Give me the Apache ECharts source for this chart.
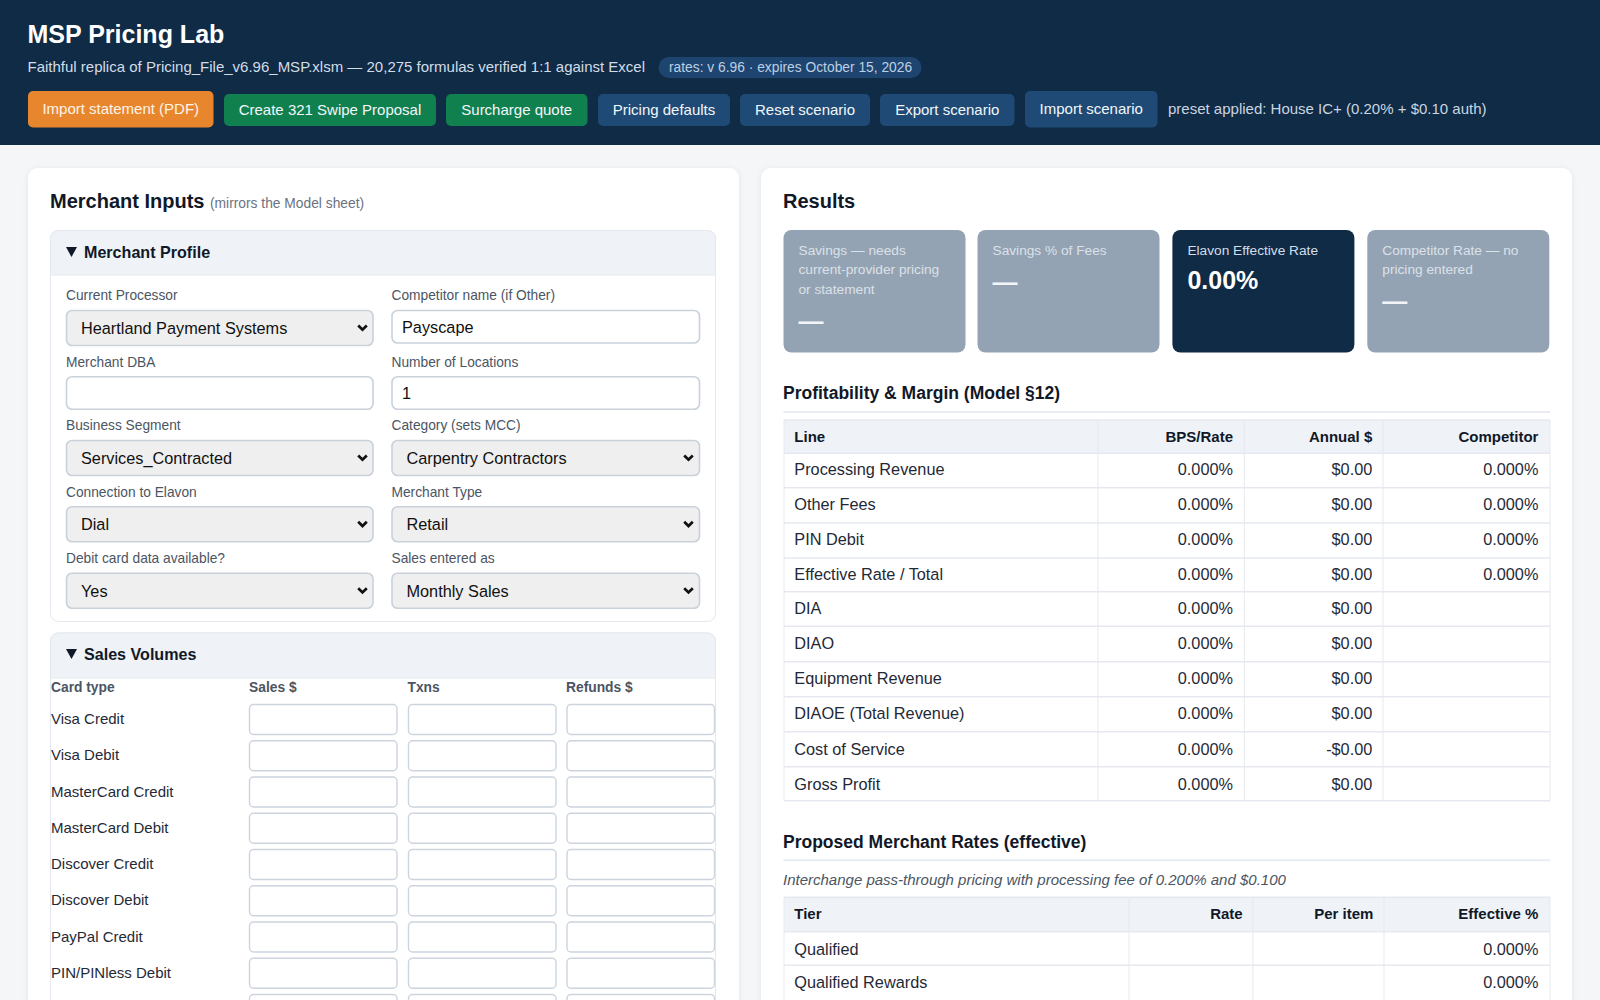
<!DOCTYPE html>
<html><head><meta charset="utf-8"><title>MSP Pricing Lab</title>
<style>html,body{margin:0;padding:0;background:#f4f6f8;overflow:hidden}#c{width:1600px;height:1000px}</style>
<script src="https://cdn.jsdelivr.net/npm/echarts@6/dist/echarts.min.js"></script></head><body><div id="c"></div>
<script>
const titleText='MSP Pricing Lab';
const subtitleText='Faithful replica of Pricing_File_v6.96_MSP.xlsm — 20,275 formulas verified 1:1 against Excel';
const pillText='rates: v 6.96 · expires October 15, 2026';
const presetText='preset applied: House IC+ (0.20% + $0.10 auth)';
const buttonLabels=['Import statement (PDF)','Create 321 Swipe Proposal','Surcharge quote','Pricing defaults','Reset scenario','Export scenario','Import scenario'];
const formLabelsLeft=['Current Processor','Merchant DBA','Business Segment','Connection to Elavon','Debit card data available?'];
const formValuesLeft=['Heartland Payment Systems','','Services_Contracted','Dial','Yes'];
const formLabelsRight=['Competitor name (if Other)','Number of Locations','Category (sets MCC)','Merchant Type','Sales entered as'];
const formValuesRight=['Payscape','1','Carpentry Contractors','Retail','Monthly Sales'];
const salesColumns=['Card type','Sales $','Txns','Refunds $'];
const cardTypes=['Visa Credit','Visa Debit','MasterCard Credit','MasterCard Debit','Discover Credit','Discover Debit','PayPal Credit','PIN/PINless Debit'];
const kpiLabels=[['Savings — needs','current-provider pricing','or statement'],['Savings % of Fees'],['Elavon Effective Rate'],['Competitor Rate — no','pricing entered']];
const kpiValues=['—','—','0.00%','—'];
const profitHead=['Line','BPS/Rate','Annual $','Competitor'];
const profitLines=['Processing Revenue','Other Fees','PIN Debit','Effective Rate / Total','DIA','DIAO','Equipment Revenue','DIAOE (Total Revenue)','Cost of Service','Gross Profit'];
const profitBps=['0.000%','0.000%','0.000%','0.000%','0.000%','0.000%','0.000%','0.000%','0.000%','0.000%'];
const profitAnnual=['$0.00','$0.00','$0.00','$0.00','$0.00','$0.00','$0.00','$0.00','-$0.00','$0.00'];
const profitComp=['0.000%','0.000%','0.000%','0.000%','','','','','',''];
const ratesHead=['Tier','Rate','Per item','Effective %'];
const rateTiers=['Qualified','Qualified Rewards'];
const rateEffective=['0.000%','0.000%'];

const F='"Liberation Sans",Arial,sans-serif';
const E=[];
function rect(x,y,w,h,fill,stroke,r,extra){E.push({type:'rect',shape:{x,y,width:w,height:h,r:r||0},style:Object.assign({fill:fill||'none',stroke:stroke||'none',lineWidth:stroke?1:0},extra||{}),silent:true});}
function text(x,y,t,size,color,opt){opt=opt||{};if(t==='')return;E.push({type:'text',silent:true,style:{x,y,text:t,fill:color,font:(opt.style?opt.style+' ':'')+(opt.weight||'normal')+' '+size+'px '+F,textAlign:opt.align||'left',textVerticalAlign:'middle'}});}
function line(x1,y1,x2,y2,c,w){E.push({type:'line',silent:true,shape:{x1,y1,x2,y2},style:{stroke:c,lineWidth:w||1}});}
function tri(x,y){E.push({type:'polygon',silent:true,shape:{points:[[x,y],[x+11,y],[x+5.5,y+10]]},style:{fill:'#111827'}});}
function chev(x,y){E.push({type:'polyline',silent:true,shape:{points:[[x-4.3,y-2],[x,y+2.2],[x+4.3,y-2]]},style:{stroke:'#111',lineWidth:2.7,fill:'none'}});}

const NAVY='#0f2b46',BORDER='#e3e8ef',INK='#111827',MUTE='#4b5563',TBL='#e5e9ef';
// header
rect(0,0,1600,145,NAVY);
text(27.5,33.5,titleText,25,'#ffffff',{weight:'bold'});
text(27.5,66.5,subtitleText,15,'#d3dde8');
rect(658.5,57,263,21,'#1e4570',null,10.5);
text(669,67.3,pillText,13.8,'#bcd0e4');
const btnX=[[28,213.5],[224,436],[446,587.5],[598,730],[740,870],[880,1014.5],[1025,1157.5]];
const btnFill=['#e8862e','#11804f','#11804f','#1e4a75','#1e4a75','#1e4a75','#1e4a75'];
buttonLabels.forEach((b,i)=>{const tall=i===0||i===6;const y=tall?91:94,h=tall?36.5:32;
 rect(btnX[i][0],y,btnX[i][1]-btnX[i][0],h,btnFill[i],null,5);
 text((btnX[i][0]+btnX[i][1])/2,tall?108.8:109.5,b,15,i===0?'#fff4e8':'#f3f7fb',{align:'center'});});
text(1168,108.8,presetText,15,'#cbd5e1');

// cards
const shadow={shadowColor:'rgba(15,43,70,0.07)',shadowBlur:6,shadowOffsetY:1};
rect(28,168,711,860,'#ffffff',null,10,shadow);
rect(761,168,811,860,'#ffffff',null,10,shadow);

// merchant inputs
text(50,200.5,'Merchant Inputs',20,INK,{weight:'bold'});
text(210,203,'(mirrors the Model sheet)',13.8,'#6b7280');
// profile section
rect(50.5,230.5,665,391,'#fff',BORDER,8);
rect(50.5,230.5,665,44.5,'#eff3f8',BORDER,[8,8,0,0]);
tri(66,247);
text(84,252,'Merchant Profile',16.1,INK,{weight:'bold'});
const rowLab=[295,362,425.2,492,558];
const rowTop=[310,376.3,440,506.3,572.7];
const rowH=[36,33.5,36,36,36];
function field(x,w,top,h,val,isSel,chevX){
 rect(x+.5,top+.5,w-1,h-1,isSel?'#efefef':'#ffffff','#c9d1db',5.5,{lineWidth:1.6});
 text(x+(isSel?15:10.5),top+h/2+(isSel?-.2:.2),val,16.3,'#111');
 if(isSel)chev(chevX,top+h/2-.5);
}
formLabelsLeft.forEach((l,i)=>{text(66,rowLab[i],l,13.75,MUTE);text(391.5,rowLab[i],formLabelsRight[i],13.75,MUTE);
 field(66,307.5,rowTop[i],rowH[i],formValuesLeft[i],i!==1,362.5);
 field(391.5,308.5,rowTop[i],i===0?33.5:rowH[i],formValuesRight[i],i>=2,688.5);
});
// sales section
rect(50.5,633,665,420,'#fff',BORDER,8);
rect(50.5,633,665,45,'#eff3f8',BORDER,[8,8,0,0]);
tri(66,649);
text(84,654,'Sales Volumes',16.1,INK,{weight:'bold'});
const colX=[51,249,407.5,566];
salesColumns.forEach((c,i)=>text(colX[i],687,c,13.8,MUTE,{weight:'bold'}));
const rowPitch=36.25;
for(let i=0;i<9;i++){const top=704+i*rowPitch;
 if(i<cardTypes.length)text(51,718.6+i*rowPitch,cardTypes[i],15,'#1f2937');
 [249,408,566.5].forEach(x=>rect(x+.5,top+.5,147.5,30,'#fff','#ccd4de',4,{lineWidth:1.4}));
}

// results
text(783,200.5,'Results',20,INK,{weight:'bold'});
const kpiX=[783.5,977.5,1172.4,1367.3];
kpiLabels.forEach((ls,i)=>{const dark=i===2;
 rect(kpiX[i],230,182,122.5,dark?NAVY:'#94a3b3',null,8);
 ls.forEach((l,j)=>text(kpiX[i]+15,250+j*19.6,l,13.7,dark?'#d4dde7':'#dbe1e8'));
 const vy=250+ls.length*19.6+12;
 text(kpiX[i]+15,dark?280:vy,kpiValues[i],25,dark?'#fff':'#f2f4f7',{weight:'bold'});
});

function sectionHead(y,uy,t){text(783,y,t,17.5,INK,{weight:'bold'});line(783.5,uy,1550,uy,'#e9edf2',2);}
function table(top,bounds,cols,rightX,head,rows,textY,headY){
 const L=784,R=1550;const bottom=bounds[bounds.length-1];
 rect(L,top,R-L,bounds[0]-top,'#eff3f8');
 [top].concat(bounds).forEach(y=>line(L,y,R,y,TBL,1.4));
 [L].concat(cols,[R]).forEach(x=>line(x,top,x,bottom,TBL,1));
 text(794.3,headY,head[0],15,INK,{weight:'bold'});
 [1,2,3].forEach(k=>text(rightX[k-1],headY,head[k],15,INK,{weight:'bold',align:'right'}));
 rows.forEach((r,i)=>{text(794.3,textY[i]-.2,r[0],16.3,'#1f2937');
  [1,2,3].forEach(k=>text(rightX[k-1],textY[i]-.2,r[k],16.3,'#1f2937',{align:'right'}));});
}
sectionHead(393.4,412,'Profitability & Margin (Model §12)');
table(420,[453.3,487.7,523,558,591.7,626.3,661.7,696.7,731.7,766.7,800.7],[1098,1244.3,1383],[1233,1372.3,1538.4],profitHead,
 profitLines.map((l,i)=>[l,profitBps[i],profitAnnual[i],profitComp[i]]),
 [469.4,504.4,539.4,574.4,608.4,643.4,678.4,713.4,748.7,783.7],436.5);
sectionHead(841.8,860.3,'Proposed Merchant Rates (effective)');
text(783,879,'Interchange pass-through pricing with processing fee of 0.200% and $0.100',15,MUTE,{style:'italic'});
table(897.3,[931.7,965.3,1003,1010],[1129,1252.9,1384],[1242.7,1373.4,1538.4],ratesHead,
 rateTiers.map((l,i)=>[l,'','',rateEffective[i]]),[948.7,982.2],913.8);

const chart=echarts.init(document.getElementById('c'),null,{renderer:'svg',width:1600,height:1000});
chart.setOption({animation:false,backgroundColor:'#f4f6f8',graphic:{elements:E}});
</script></body></html>
